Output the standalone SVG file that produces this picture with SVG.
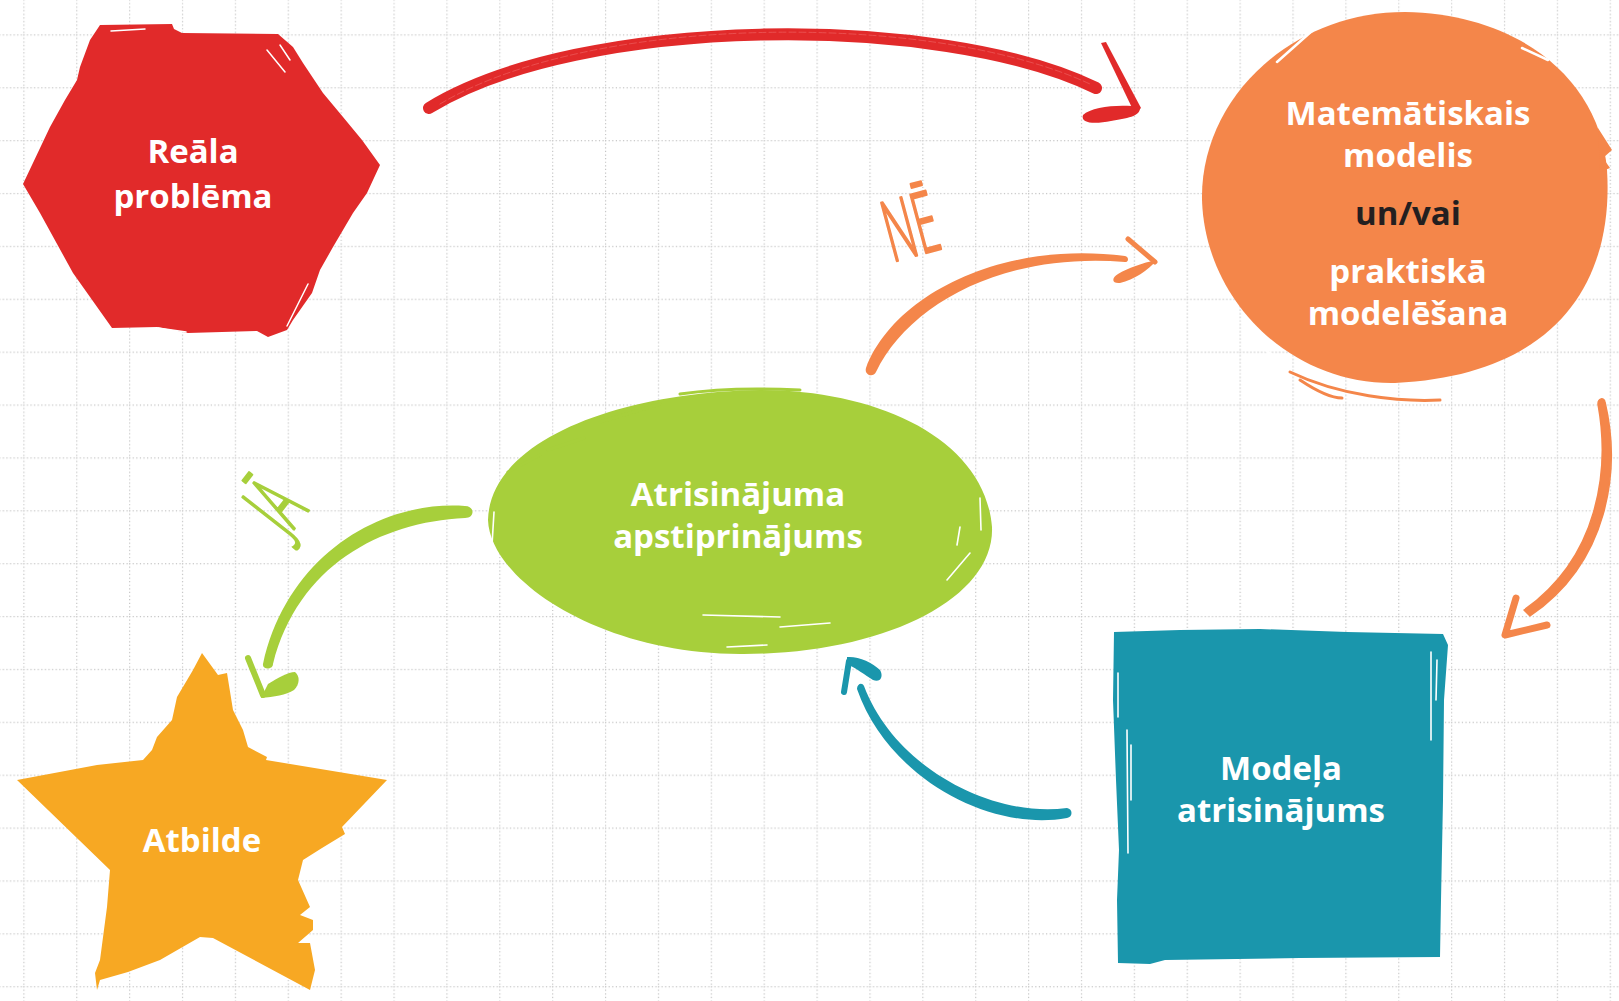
<svg xmlns="http://www.w3.org/2000/svg" width="1619" height="1001" viewBox="0 0 1619 1001">
  <defs>
    <!-- dotted graph-paper grid -->
    <pattern id="grid" x="23.3" y="34.3" width="52.88" height="52.88" patternUnits="userSpaceOnUse">
      <line x1="0.6" y1="0" x2="0.6" y2="52.88" stroke="#c4c4c4" stroke-width="1.2" stroke-dasharray="1.2 2.4"/>
      <line x1="0" y1="0.6" x2="52.88" y2="0.6" stroke="#c4c4c4" stroke-width="1.2" stroke-dasharray="1.2 2.4"/>
    </pattern>
    <style>
      .label { font-family: "Open Sans", "Noto Sans", "Liberation Sans", sans-serif; font-weight: 700; font-size: 33px; fill: #ffffff; text-anchor: middle; }
      .dark { fill: #231f20; }
      .hand { font-family: "Open Sans", "Liberation Sans", sans-serif; font-weight: 300; font-size: 84px; text-anchor: middle; stroke-width: 2.6; stroke-linejoin: round; }
      .streak { fill: none; stroke: #ffffff; stroke-linecap: round; }
      .red { fill: #e12a2a; }
      .orange { fill: #f4864a; }
      .green { fill: #a7cf3b; }
      .teal { fill: #1a96ac; }
      .yellow { fill: #f7a823; }
    </style>
  </defs>

  <rect width="1619" height="1001" fill="#ffffff"/>
  <rect width="1619" height="1001" fill="url(#grid)"/>

  <!-- Real problem: brushed hexagon -->
  <g id="node-reala-problema">
    <path class="red" d="M23,184 L50,127 L65,100 L77,80 L80,67 L90,40 L100,25 L172,24 L174,29 L182,33 L278,34 L293,47 L303,63 L323,93 L343,117 L362,140 L380,165 L367,193 L353,213 L333,247 L320,270 L312,293 L293,320 L287,330 L268,337 L257,331 L188,333 L157,327 L112,328 L73,273 L40,213 Z"/>
    <path class="streak" stroke-width="1.5" d="M111,31 L145,29 M267,50 L285,72 M280,45 L290,60 M287,326 L308,284 M158,328 L186,332"/>
    <text class="label" x="193" y="163">Reāla</text>
    <text class="label" x="193" y="208">problēma</text>
  </g>

  <!-- Mathematical model: brushed circle -->
  <g id="node-matematiskais-modelis">
    <path class="orange" d="M1405,12 C1520,14 1600,80 1607,170 C1614,278 1560,375 1395,383 C1290,385 1205,300 1202,200 C1200,100 1290,12 1405,12 Z"/>
    <path class="orange" d="M1598,128 L1612,150 L1603,158 L1610,168 L1600,172 Z"/>
    <path fill="none" stroke="#f4864a" stroke-width="3" stroke-linecap="round" d="M1290,372 C1340,396 1400,402 1440,400 M1300,380 C1318,392 1333,398 1342,398"/>
    <path class="streak" stroke-width="2.5" d="M1277,62 L1322,22 M1251,338 L1288,368 M1522,48 L1548,60"/>
    <text class="label" x="1408" y="125">Matemātiskais</text>
    <text class="label" x="1408" y="167">modelis</text>
    <text class="label dark" x="1408" y="225">un/vai</text>
    <text class="label" x="1408" y="283">praktiskā</text>
    <text class="label" x="1408" y="325">modelēšana</text>
  </g>

  <!-- Solution verification: brushed ellipse -->
  <g id="node-atrisinajuma-apstiprinajums">
    <path class="green" d="M488,520 C490,440 620,392 760,390 C880,390 985,440 992,527 C995,600 880,655 740,654 C600,654 490,580 488,520 Z"/>
    <path fill="none" stroke="#a7cf3b" stroke-width="3" stroke-linecap="round" d="M508,472 L540,455 M548,450 L584,438 M600,422 L660,404 M680,394 C720,388 760,388 800,390"/>
    <path class="streak" stroke-width="1.6" d="M494,512 L492,545 M980,498 L981,530 M960,527 L957,545 M947,580 L970,553 M703,615 L780,617 M780,627 L830,623 M727,647 L767,645"/>
    <text class="label" x="738" y="506">Atrisinājuma</text>
    <text class="label" x="738" y="548">apstiprinājums</text>
  </g>

  <!-- Model solution: brushed square -->
  <g id="node-modela-atrisinajums">
    <path class="teal" d="M1114,632 L1180,630 L1260,629 L1347,632 L1443,634 L1448,645 L1444,700 L1443,800 L1441,900 L1440,957 L1300,958 L1165,960 L1150,964 L1118,963 L1117,900 L1119,850 L1116,780 L1113,700 Z"/>
    <path class="streak" stroke-width="1.6" d="M1118,673 L1118,717 M1127,730 L1128,853 M1131,745 L1131,800 M1431,652 L1431,740 M1437,660 L1436,700"/>
    <text class="label" x="1281" y="780">Modeļa</text>
    <text class="label" x="1281" y="822">atrisinājums</text>
  </g>

  <!-- Answer: brushed star -->
  <g id="node-atbilde">
    <path class="yellow" d="M202,653 L218,675 L227,673 L233,710 L243,730 L248,747 L267,757 L266,760 L387,780 L342,827 L345,834 L322,848 L303,860 L298,880 L310,907 L300,915 L313,920 L313,930 L298,943 L310,943 L315,970 L310,990 L213,938 L200,937 L160,960 L128,972 L100,980 L97,990 L95,973 L100,960 L107,907 L110,870 L17,780 L97,765 L143,760 L152,750 L157,737 L172,720 L177,697 L193,670 Z"/>
    <text class="label" x="202" y="852">Atbilde</text>
  </g>

  <!-- Connectors -->
  <g id="connectors" stroke-linecap="round" stroke-linejoin="round">
    <!-- real problem -> model -->
    <path fill="none" stroke="#e12a2a" stroke-width="12" d="M429,108 C580,15 940,12 1096,88"/>
    <path fill="none" stroke="#f06a6a" stroke-width="0.8" stroke-dasharray="7 3" opacity="0.7" d="M440,104 C590,14 930,10 1090,84"/>
    <path class="red" d="M1101,43 L1106,42 L1141,108 L1135,114 Z"/>
    <path class="red" d="M1140,107 C1122,104 1092,106 1083,115 C1080,124 1096,124 1111,121 C1126,118 1141,117 1140,107 Z"/>

    <!-- model -> model solution -->
    <path class="orange" stroke="#f4864a" stroke-width="1.5" d="M1605,402 C1621,470 1609,562 1530,616 L1524,610 C1599,557 1610,470 1598,404 C1598,398 1604,397 1605,402 Z"/>
    <path fill="none" stroke="#f4864a" stroke-width="7" d="M1516,598 L1505,635 L1547,625"/>

    <!-- model solution -> verification -->
    <path class="teal" d="M1067,808 C990,818 894,766 864,686 C862,682 857,684 857,689 C888,778 990,832 1067,818 C1073,817 1073,809 1067,808 Z"/>
    <path fill="none" stroke="#1a96ac" stroke-width="6" d="M844,692 L849,661"/>
    <path class="teal" d="M847,657 C858,656 872,662 880,670 C884,677 880,683 873,680 C865,675 856,668 847,664 Z"/>

    <!-- verification -> model (NĒ) -->
    <path class="orange" d="M866,368 C893,296 1000,240 1125,256 C1129,257 1129,262 1125,262 C1000,252 908,306 876,372 C873,378 864,375 866,368 Z"/>
    <path fill="none" stroke="#f4864a" stroke-width="5" d="M1128,239 L1155,262"/>
    <path class="orange" d="M1157,260 C1148,270 1134,280 1120,283 C1112,284 1111,278 1118,274 C1128,268 1142,263 1157,260 Z"/>

    <!-- verification -> answer (JĀ) -->
    <path class="green" d="M465,506 C380,500 287,556 263,664 C262,670 273,670 273,664 C298,566 380,522 465,518 C475,518 475,506 465,506 Z"/>
    <path fill="none" stroke="#a7cf3b" stroke-width="6" d="M248,658 L263,695"/>
    <path class="green" d="M261,698 L268,684 C278,678 288,672 295,672 C300,676 300,684 294,690 C286,695 274,697 261,698 Z"/>

    <!-- hand-lettered answers -->
    <text class="hand" fill="#f4864a" stroke="#f4864a" transform="translate(918,255) rotate(-15) scale(0.5,1)">NĒ</text>
    <text class="hand" fill="#a7cf3b" stroke="#a7cf3b" transform="translate(298,524) rotate(-52) scale(0.5,1)">JĀ</text>
  </g>
</svg>
